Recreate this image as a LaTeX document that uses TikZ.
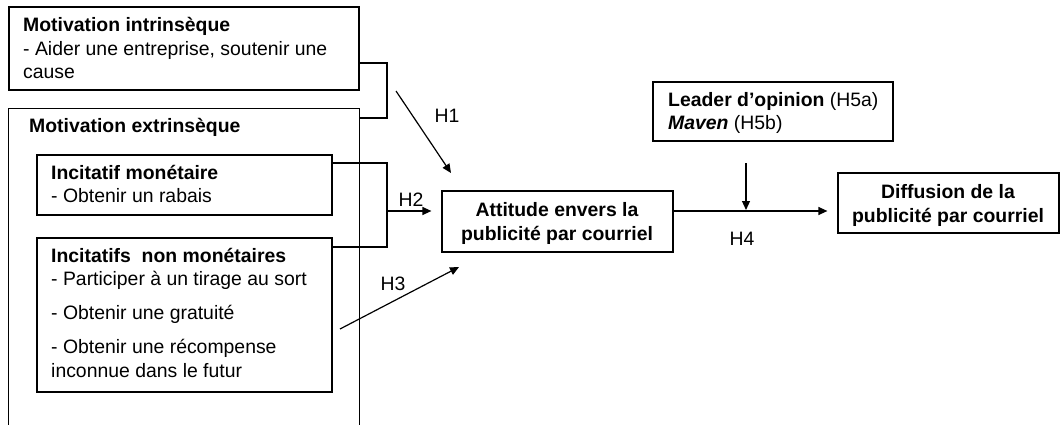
\documentclass[tikz,border=0pt]{standalone}
\usepackage{fontspec}
\setmainfont{Liberation Sans}
\usetikzlibrary{arrows.meta}
\tikzset{
  box/.style={draw, line width=1.2pt, inner sep=0pt},
  txt/.style={inner sep=0pt, align=left, anchor=base west,
    font=\fontsize{19.4}{23.5}\selectfont},
  ctxt/.style={inner sep=0pt, align=center, anchor=base,
    font=\fontsize{19.4}{23.5}\selectfont\bfseries},
  lbl/.style={inner sep=0pt, font=\fontsize{19.4}{23.5}\selectfont},
  conn/.style={line width=1.2pt},
  arr/.style={line width=1.2pt, -{Triangle[length=9pt,width=8pt]}}
}
\begin{document}
\begin{tikzpicture}[x=1pt,y=-1pt]
\useasboundingbox (0,0) rectangle (1060,425);
% boxes (text nodes are anchored at the baseline of their last line)
\node[box, minimum width=350pt, minimum height=83pt] (m1) at (184,48.5) {};
\node[txt] (m1t) at (23,79)
  {\textbf{Motivation intrinsèque}\\- Aider une entreprise, soutenir une\\cause};
\node[minimum width=350pt, minimum height=320pt, inner sep=0pt] (ext) at (184,269) {};
\draw[conn] (ext.south west) -- (ext.north west) -- (ext.north east) -- (ext.south east);
\node[txt] (extt) at (29,133) {\textbf{Motivation extrinsèque}};
\node[box, minimum width=295pt, minimum height=60pt] (im) at (184.5,185) {};
\node[txt] (imt) at (51,202.5) {\textbf{Incitatif monétaire}\\- Obtenir un rabais};
\node[box, minimum width=295pt, minimum height=154pt] (nm) at (184.5,315) {};
\node[txt] (nmt) at (51,377)
  {\textbf{Incitatifs\ \ non monétaires}\\- Participer à un tirage au sort\\[10.5pt]- Obtenir une gratuité\\[10.5pt]- Obtenir une récompense\\inconnue dans le futur};
\node[box, minimum width=231pt, minimum height=61pt] (att) at (557.5,221.5) {};
\node[ctxt] (attt) at (557,240) {Attitude envers la\\publicité par courriel};
\node[box, minimum width=240pt, minimum height=59pt] (lead) at (773,111.5) {};
\node[txt] (leadt) at (668,130) {\textbf{Leader d’opinion} (H5a)\\\textbf{\textit{Maven}} (H5b)};
\node[box, minimum width=221pt, minimum height=60pt] (dif) at (948.5,203) {};
\node[ctxt] (dift) at (948,222) {Diffusion de la\\publicité par courriel};
% coordinates
\coordinate (b1t) at (387,63);
\coordinate (b1b) at (387,118);
\coordinate (b2t) at (387,163);
\coordinate (b2b) at (387,247);
\coordinate (h2s) at (387,211);
\coordinate (h1s) at (396,91);
\coordinate (h1e) at (451,173);
\coordinate (h3s) at (340,329);
\coordinate (h3e) at (459,267);
\coordinate (vs) at (746,163);
% connectors
\draw[conn] (m1.east |- b1t) -- (b1t) -- (b1b) -- (ext.east |- b1b);
\draw[conn] (im.east |- b2t) -- (b2t) -- (b2b) -- (nm.east |- b2b);
\draw[arr] (h2s) -- ([xshift=-10pt]att.west |- h2s);
\draw[arr] (h1s) -- (h1e);
\draw[arr] (h3s) -- (h3e);
\draw[arr] (att.east |- h2s) -- ([xshift=-10pt]dif.west |- h2s);
\draw[arr] (vs) -- ([yshift=1pt]vs |- h2s);
% labels
\node[lbl] (l1) at (447,116) {H1};
\node[lbl] (l2) at (411,200) {H2};
\node[lbl] (l3) at (393,284) {H3};
\node[lbl] (l4) at (742,239) {H4};
\end{tikzpicture}
\end{document}
